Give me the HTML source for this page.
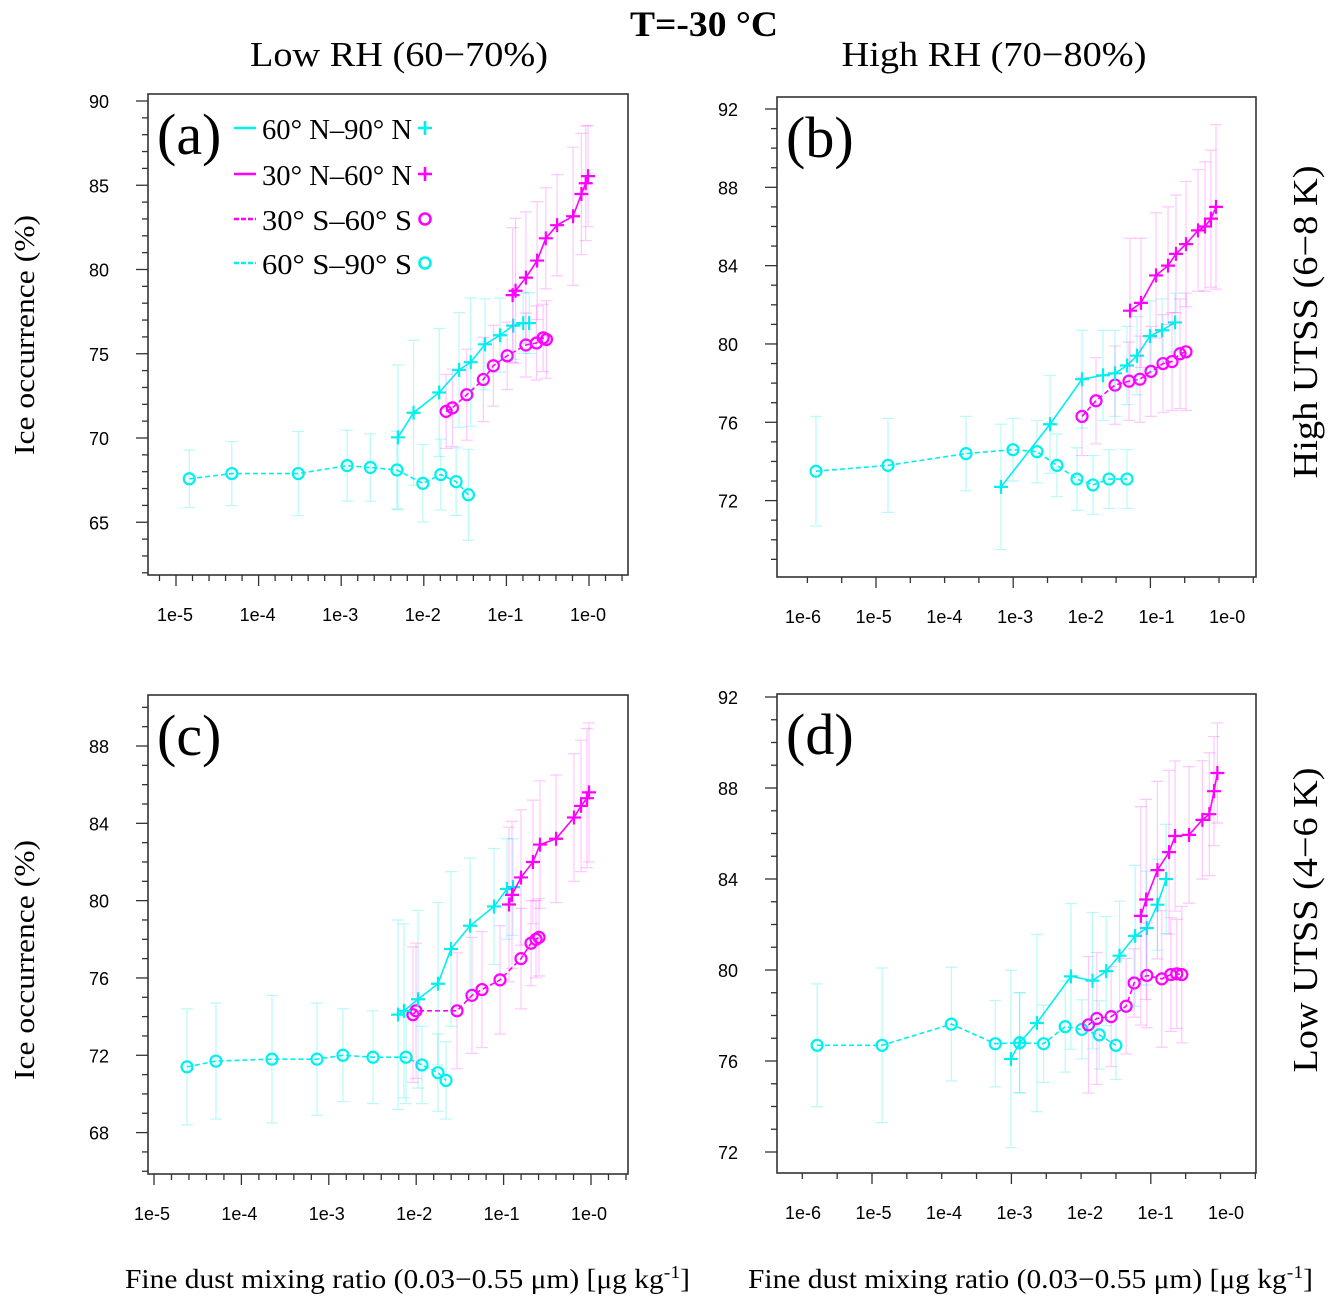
<!DOCTYPE html>
<html><head><meta charset="utf-8"><style>
body{margin:0;background:#fff;}
svg text{font-family:"Liberation Serif",serif;}
.tk{font-family:"Liberation Sans",sans-serif;font-size:18px;}
</style></head><body>
<svg id="fig" width="1338" height="1308" viewBox="0 0 1338 1308" xmlns="http://www.w3.org/2000/svg">
<text x="704" y="36" font-size="36" font-weight="bold" text-anchor="middle" textLength="148" lengthAdjust="spacingAndGlyphs">T=-30 °C</text>
<text x="399" y="66" font-size="35" text-anchor="middle" textLength="298" lengthAdjust="spacingAndGlyphs">Low RH (60−70%)</text>
<text x="994" y="66" font-size="35" text-anchor="middle" textLength="305" lengthAdjust="spacingAndGlyphs">High RH (70−80%)</text>
<text transform="translate(1317,322) rotate(-90)" font-size="35" text-anchor="middle" textLength="313" lengthAdjust="spacingAndGlyphs">High UTSS (6−8 K)</text>
<text transform="translate(1317,920) rotate(-90)" font-size="35" text-anchor="middle" textLength="305" lengthAdjust="spacingAndGlyphs">Low UTSS (4−6 K)</text>
<text transform="translate(34,335) rotate(-90)" font-size="29" text-anchor="middle" textLength="240" lengthAdjust="spacingAndGlyphs">Ice occurrence (%)</text>
<text transform="translate(34,960) rotate(-90)" font-size="29" text-anchor="middle" textLength="240" lengthAdjust="spacingAndGlyphs">Ice occurrence (%)</text>
<text x="125" y="1288" font-size="27" textLength="565" lengthAdjust="spacingAndGlyphs">Fine dust mixing ratio (0.03−0.55 μm) [μg kg<tspan dy="-10" font-size="18">-1</tspan><tspan dy="10">]</tspan></text>
<text x="748" y="1288" font-size="27" textLength="565" lengthAdjust="spacingAndGlyphs">Fine dust mixing ratio (0.03−0.55 μm) [μg kg<tspan dy="-10" font-size="18">-1</tspan><tspan dy="10">]</tspan></text>
</svg>
<script>
// ---------- data (log10 of mixing ratio, ice occurrence %, error half-width) ----------
const aNNx=[-2.313,-2.124,-1.814,-1.573,-1.432,-1.259,-1.078,-0.917,-0.796,-0.724];
const aNNy=[70.04,71.5,72.7,74.04,74.5,75.56,76.1,76.67,76.82,76.82];
const aNNe=[4.3,4.3,3.8,3.4,3.8,2.7,2.2,2.0,1.8,1.8];
const aMNx=[-0.925,-0.889,-0.764,-0.628,-0.523,-0.386,-0.193,-0.092,-0.040,-0.012];
const aMNy=[78.48,78.74,79.52,80.53,81.85,82.63,83.16,84.48,85.12,85.54];
const aMNe=[4.0,4.3,3.9,3.5,3.0,3.0,4.1,3.6,3.4,3.0];
const aMSx=[-1.730,-1.653,-1.480,-1.279,-1.158,-0.990,-0.764,-0.636,-0.555,-0.515];
const aMSy=[71.58,71.79,72.57,73.47,74.29,74.88,75.52,75.64,75.94,75.85];
const aMSe=[2.2,2.3,2.7,2.5,2.4,2.0,1.9,2.2,2.0,2.3];
const aSSx=[-4.839,-4.324,-3.520,-2.928,-2.647,-2.325,-2.011,-1.794,-1.609,-1.460];
const aSSy=[67.58,67.89,67.89,68.36,68.25,68.1,67.31,67.83,67.41,66.63];
const aSSe=[1.7,1.9,2.5,2.1,2.0,2.3,2.3,2.1,2.0,2.7];

const bNNx=[-3.178,-2.464,-1.997,-1.691,-1.516,-1.341,-1.195,-1.006,-0.831,-0.641];
const bNNy=[72.7,75.9,78.2,78.4,78.5,78.9,79.4,80.4,80.7,81.1];
const bNNe=[3.2,2.5,2.5,2.3,2.2,2.0,2.0,1.8,1.6,1.5];
const bMNx=[-1.297,-1.137,-0.918,-0.743,-0.627,-0.481,-0.306,-0.204,-0.117,-0.044];
const bMNy=[81.7,82.1,83.5,84.0,84.6,85.1,85.8,86.0,86.4,87.0];
const bMNe=[3.7,3.3,3.2,3.0,3.0,3.2,3.1,3.3,3.5,4.2];
const bMSx=[-1.997,-1.793,-1.516,-1.312,-1.152,-0.991,-0.816,-0.685,-0.569,-0.481];
const bMSy=[76.3,77.1,77.9,78.1,78.2,78.6,79.0,79.1,79.5,79.6];
const bMSe=[2.0,2.2,2.0,2.0,2.2,2.3,2.5,2.5,2.8,3.0];
const bSSx=[-5.875,-4.825,-3.688,-3.003,-2.653,-2.362,-2.070,-1.837,-1.603,-1.341];
const bSSy=[73.5,73.8,74.4,74.6,74.5,73.8,73.1,72.8,73.1,73.1];
const bSSe=[2.8,2.4,1.9,1.6,1.6,1.6,1.6,1.5,1.5,1.5];

const cNNx=[-2.208,-2.140,-1.979,-1.751,-1.602,-1.384,-1.110,-0.961,-0.892];
const cNNy=[74.1,74.3,74.9,75.7,77.5,78.7,79.7,80.6,80.7];
const cNNe=[4.9,4.5,4.6,4.2,4.0,3.5,3.0,2.6,2.5];
const cMNx=[-0.938,-0.904,-0.801,-0.664,-0.584,-0.400,-0.195,-0.114,-0.046,-0.023];
const cMNy=[79.8,80.3,81.2,82.0,82.9,83.2,84.3,84.9,85.3,85.6];
const cMNe=[4.0,3.8,3.5,3.2,3.3,3.3,3.3,3.4,3.6,3.6];
const cMSx=[-2.037,-2.002,-1.533,-1.362,-1.247,-1.041,-0.801,-0.686,-0.629,-0.595];
const cMSy=[74.1,74.3,74.3,75.1,75.4,75.9,77.0,77.8,78.0,78.1];
const cMSe=[3.5,3.5,3.0,3.0,3.0,2.8,2.6,2.2,2.0,2.0];
const cSSx=[-4.622,-4.291,-3.650,-3.135,-2.838,-2.494,-2.117,-1.934,-1.751,-1.659];
const cSSy=[71.4,71.7,71.8,71.8,72.0,71.9,71.9,71.5,71.1,70.7];
const cSSe=[3.0,3.0,3.3,2.9,2.4,2.4,2.4,2.0,2.0,2.0];

const dNNx=[-3.007,-2.882,-2.634,-2.146,-1.836,-1.640,-1.449,-1.225,-1.057,-0.905,-0.780];
const dNNy=[76.09,76.8,77.67,79.72,79.53,79.95,80.63,81.5,81.84,82.87,84.0];
const dNNe=[3.9,2.2,3.9,3.2,3.0,2.4,2.4,3.1,2.5,2.0,2.4];
const dMNx=[-1.143,-1.067,-0.905,-0.738,-0.652,-0.451,-0.260,-0.160,-0.093,-0.045];
const dMNy=[82.38,83.1,84.39,85.18,85.89,85.94,86.6,86.85,87.86,88.66];
const dMNe=[4.8,4.4,3.9,3.6,3.3,3.0,2.6,2.7,2.4,2.2];
const dMSx=[-1.894,-1.774,-1.569,-1.354,-1.239,-1.057,-0.842,-0.713,-0.627,-0.555];
const dMSy=[77.59,77.87,77.95,78.41,79.43,79.76,79.61,79.8,79.83,79.8];
const dMSe=[3.0,2.9,2.2,2.1,1.5,2.3,3.0,2.5,2.4,3.0];
const dSSx=[-5.787,-4.855,-3.862,-3.231,-2.882,-2.538,-2.228,-1.989,-1.740,-1.501];
const dSSy=[76.69,76.69,77.62,76.76,76.8,76.76,77.51,77.39,77.15,76.69];
const dSSe=[2.7,3.4,2.5,1.9,2.2,1.7,2.0,1.3,1.5,1.5];

const xTickLabelsA=["1e-5","1e-4","1e-3","1e-2","1e-1","1e-0"];
const xTickLabelsB=["1e-6","1e-5","1e-4","1e-3","1e-2","1e-1","1e-0"];
const yTicksA=[65,70,75,80,85,90];
const yTicksB=[72,76,80,84,88,92];
const yTicksC=[68,72,76,80,84,88];
const yTicksD=[72,76,80,84,88,92];
const legendLabels=["60° N–90° N","30° N–60° N","30° S–60° S","60° S–90° S"];

// ---------- drawing ----------
const NS="http://www.w3.org/2000/svg";
const svg=document.getElementById('fig');
function mk(tag,attrs,parent){const e=document.createElementNS(NS,tag);for(const k in attrs)e.setAttribute(k,attrs[k]);(parent||svg).appendChild(e);return e;}
const CY='#00f0f0', MG='#ff00ff', CYL='rgba(0,235,235,0.28)', MGL='rgba(255,0,255,0.22)';

function panel(p){
  const g=mk('g',{});
  
  
  const xs=v=>p.x0+(v-p.xl0)*p.dec;
  const ys=v=>p.y0+(p.yv0-v)*p.unit;
  const fr=mk('rect',{x:p.L,y:p.T,width:p.R-p.L,height:p.B-p.T,fill:'none',stroke:'#333','stroke-width':1.6},g);
  
  
  for(let k=0;k<200;k++){
    const v=p.xtStart+k*p.xtStep; if(v>p.xmax+1e-9)break;
    const px=xs(v); if(px<p.L-0.5||px>p.R+0.5)continue;
    const major=Math.abs((v-p.majStart)/p.majStep-Math.round((v-p.majStart)/p.majStep))<1e-6;
    mk('line',{x1:px,x2:px,y1:p.B,y2:p.B+(major?11:6),stroke:'#333','stroke-width':1.3},g);
  }
  p.xlabels.forEach((t,i)=>{
    const tx=mk('text',{x:p.lx0+i*p.ldx,y:p.B+46,'text-anchor':'middle',class:'tk'},g);
    tx.textContent=t;
    
    
  });
  for(let v=Math.ceil(p.ymin);v<=p.ymax;v++){
    const py=ys(v);
    const major=p.yticks.includes(v);
    mk('line',{x1:p.L,x2:p.L-(major?12:6),y1:py,y2:py,stroke:'#333','stroke-width':1.3},g);
  }
  p.yticks.forEach(v=>{
    const tx=mk('text',{x:p.L-39,y:ys(v)+7,'text-anchor':'end',class:'tk'},g);
    tx.textContent=v;
    
    
  });
  const lt=mk('text',{x:p.L+9,y:p.T+60,'font-size':58},g);
  lt.textContent='('+p.id+')';
  
  
  p.series.forEach(s=>{
    const sg=mk('g',{},g);
    
    
    s.x.forEach((xv,i)=>{
      const px=xs(xv),t=ys(s.y[i]+s.e[i]),b=ys(s.y[i]-s.e[i]);
      const eb=mk('path',{d:`M${px},${t}V${b}M${px-6},${t}H${px+6}M${px-6},${b}H${px+6}`,stroke:s.light,'stroke-width':1.2,fill:'none'},sg);
      
      
    });
    const pts=s.x.map((xv,i)=>xs(xv)+','+ys(s.y[i])).join(' ');
    const ln=mk('polyline',{points:pts,fill:'none',stroke:s.color,'stroke-width':1.6,'stroke-dasharray':s.dash?'5,3':'none'},sg);
    
    
    s.x.forEach((xv,i)=>{
      const px=xs(xv),py=ys(s.y[i]);
      let m;
      if(s.marker==='+') m=mk('path',{d:`M${px-7},${py}H${px+7}M${px},${py-7}V${py+7}`,stroke:s.color,'stroke-width':2.2},sg);
      else m=mk('circle',{cx:px,cy:py,r:5.5,fill:'none',stroke:s.color,'stroke-width':2.2},sg);
      
      
    });
  });
}
function S(name,x,y,e,color,light,dash,marker){return {name,x,y,e,color,light,dash,marker};}

panel({id:'a',L:148,R:628,T:94,B:575,x0:176,xl0:-5,dec:82.6,xmax:0.47,y0:101,yv0:90,unit:16.85,ymin:61.9,ymax:90.4,
  xtStart:-5.2,xtStep:0.2,majStart:-5,majStep:1,xlabels:xTickLabelsA,lx0:175,ldx:82.6,yticks:yTicksA,
  series:[S('60s-90s',aSSx,aSSy,aSSe,CY,CYL,true,'o'),S('30s-60s',aMSx,aMSy,aMSe,MG,MGL,true,'o'),
          S('60n-90n',aNNx,aNNy,aNNe,CY,CYL,false,'+'),S('30n-60n',aMNx,aMNy,aMNe,MG,MGL,false,'+')]});
panel({id:'b',L:777,R:1256,T:97,B:577,x0:876,xl0:-5,dec:68.6,xmax:0.54,y0:109,yv0:92,unit:19.58,ymin:68.1,ymax:92.6,
  xtStart:-6,xtStep:0.5,majStart:-5,majStep:2,xlabels:xTickLabelsB,lx0:803,ldx:70.7,yticks:yTicksB,
  series:[S('60s-90s',bSSx,bSSy,bSSe,CY,CYL,true,'o'),S('30s-60s',bMSx,bMSy,bMSe,MG,MGL,true,'o'),
          S('60n-90n',bNNx,bNNy,bNNe,CY,CYL,false,'+'),S('30n-60n',bMNx,bMNy,bMNe,MG,MGL,false,'+')]});
panel({id:'c',L:148,R:628,T:695,B:1174,x0:154,xl0:-5,dec:87.4,xmax:0.42,y0:746,yv0:88,unit:19.33,ymin:65.9,ymax:90.6,
  xtStart:-5,xtStep:0.2,majStart:-5,majStep:1,xlabels:xTickLabelsA,lx0:152,ldx:87.4,yticks:yTicksC,
  series:[S('60s-90s',cSSx,cSSy,cSSe,CY,CYL,true,'o'),S('30s-60s',cMSx,cMSy,cMSe,MG,MGL,true,'o'),
          S('60n-90n',cNNx,cNNy,cNNe,CY,CYL,false,'+'),S('30n-60n',cMNx,cMNy,cMNe,MG,MGL,false,'+')]});
panel({id:'d',L:777,R:1256,T:694,B:1173,x0:872,xl0:-5,dec:69.7,xmax:0.51,y0:697,yv0:92,unit:22.75,ymin:71.1,ymax:92.1,
  xtStart:-6,xtStep:0.5,majStart:-5,majStep:2,xlabels:xTickLabelsB,lx0:803,ldx:70.5,yticks:yTicksD,
  series:[S('60s-90s',dSSx,dSSy,dSSe,CY,CYL,true,'o'),S('30s-60s',dMSx,dMSy,dMSe,MG,MGL,true,'o'),
          S('60n-90n',dNNx,dNNy,dNNe,CY,CYL,false,'+'),S('30n-60n',dMNx,dMNy,dMNe,MG,MGL,false,'+')]});

// legend in panel (a)
const lg=mk('g',{});


const legColors=[CY,MG,MG,CY], legDash=[false,false,true,true], legMark=['+','+','o','o'], legY=[130,176,221,265];
legendLabels.forEach((t,i)=>{
  const eg=mk('g',{},lg);
  
  
  mk('line',{x1:234,x2:256,y1:legY[i]-2,y2:legY[i]-2,stroke:legColors[i],'stroke-width':2.4,'stroke-dasharray':legDash[i]?'5,2':'none'},eg);
  const tx=mk('text',{x:262,y:legY[i]+9,'font-size':28,textLength:150,lengthAdjust:'spacingAndGlyphs'},eg);
  tx.textContent=t;
  if(legMark[i]==='+') mk('path',{d:`M${418},${legY[i]-2}H${432}M${425},${legY[i]-9}V${legY[i]+5}`,stroke:legColors[i],'stroke-width':2.6},eg);
  else mk('circle',{cx:425,cy:legY[i]-2,r:5.5,fill:'none',stroke:legColors[i],'stroke-width':2.6},eg);
});
</script>
</body></html>
